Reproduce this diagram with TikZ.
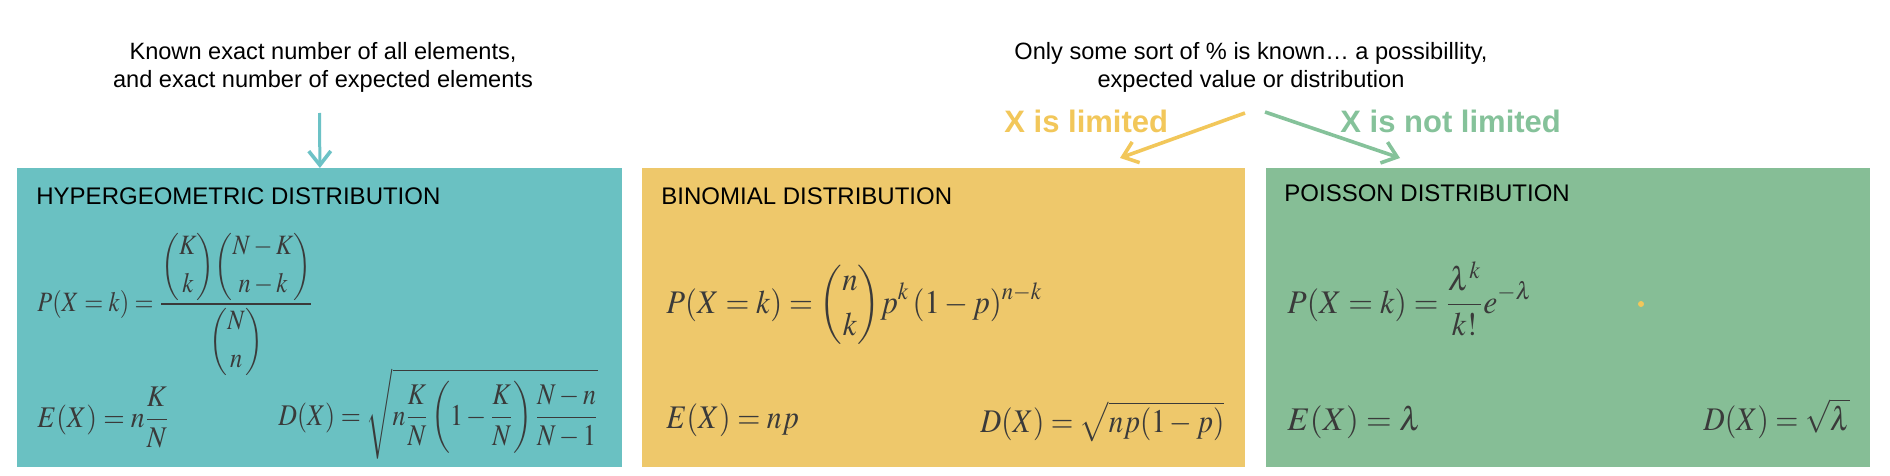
\documentclass[tikz,border=0pt]{standalone}
\usepackage{amsmath}
\usepackage{mathptmx}
\usepackage{graphicx}
\usepackage[no-math]{fontspec}
\setmainfont{Liberation Sans}
\usetikzlibrary{arrows.meta}
\definecolor{cTeal}{HTML}{6AC1C2}
\definecolor{cYel}{HTML}{EEC86B}
\definecolor{cGrn}{HTML}{86BE96}
\definecolor{cTealA}{HTML}{6CC2C6}
\definecolor{cYelA}{HTML}{F2C75A}
\definecolor{cGrnA}{HTML}{85C29A}
\definecolor{cTxt}{HTML}{3A3A3A}
\tikzset{
  distbox/.style={draw=none, anchor=north west, inner sep=0pt, minimum height=149.5pt},
  toptext/.style={align=center, font=\fontsize{11.8}{14}\selectfont, text=black, inner sep=0pt},
  boxtitle/.style={anchor=base west, inner sep=0pt, font=\fontsize{12}{14}\selectfont, text=black},
  bigfml/.style={anchor=base west, inner sep=0pt, text=cTxt, font=\fontsize{16.5}{20}\selectfont},
  midfml/.style={anchor=base west, inner sep=0pt, text=cTxt, font=\fontsize{14}{17}\selectfont},
  lowfml/.style={anchor=base west, inner sep=0pt, text=cTxt, font=\fontsize{15}{18}\selectfont},
  branch/.style={anchor=base west, inner sep=0pt, font=\bfseries\fontsize{15.5}{18}\selectfont},
  connector/.style={line width=1.8pt, -{Straight Barb[length=7pt, width=11pt, line width=1.8pt]}},
}
\begin{document}
\begin{tikzpicture}[x=0.5pt, y=-0.5pt]
\useasboundingbox (0,0) rectangle (1890,476);
\fill[white] (0,0) rectangle (1890,476);

% boxes
\node[distbox, fill=cTeal, minimum width=302.5pt] (hyp) at (17,168) {};
\node[distbox, fill=cYel, minimum width=301.5pt] (bin) at (642,168) {};
\node[distbox, fill=cGrn, minimum width=302pt] (poi) at (1266,168) {};

% top texts
\node[toptext] (known) at (323,67) {Known exact number of all elements,\\and exact number of expected elements};
\node[toptext] (only) at (1251,67) {Only some sort of \% is known\dots\ a possibillity,\\expected value or distribution};

% branch labels
\node[branch, text=cYelA] (lim) at (1004,133) {X is limited};
\node[branch, text=cGrnA] (nlim) at (1340,133) {X is not limited};

% connectors
\coordinate (a1s) at (319.5,113);
\draw[connector, draw=cTealA, line width=1.5pt] (a1s) -- (hyp.north);
\coordinate (ys) at (1245,113);
\coordinate (ye) at (1120,158);
\coordinate (gs) at (1265,112);
\coordinate (ge) at (1400,158);
\draw[connector, draw=cYelA] (ys) -- (ye);
\draw[connector, draw=cGrnA] (gs) -- (ge);

% titles
\node[boxtitle] (t1) at (36,204) {HYPERGEOMETRIC DISTRIBUTION};
\node[boxtitle] (t2) at (661,204) {BINOMIAL DISTRIBUTION};
\node[boxtitle] (t3) at (1284,201) {POISSON DISTRIBUTION};

% hypergeometric
\node[midfml] (hp) at (37,311) {\scalebox{0.87}[1]{$\displaystyle P(X=k)=\frac{\dbinom{K}{k}\dbinom{N-K}{n-k}}{\dbinom{N}{n}}$}};
\node[lowfml] (he) at (37,427) {\scalebox{0.92}[1]{$\displaystyle E(X)=n\frac{K}{N}$}};
\node[lowfml] (hd) at (278,425) {\scalebox{0.86}[1]{$\displaystyle D(X)=\sqrt{n\frac{K}{N}\left(1-\frac{K}{N}\right)\frac{N-n}{N-1}}$}};

% binomial
\node[bigfml] (bp) at (666,313) {\scalebox{0.93}[1]{$\displaystyle P(X=k)=\binom{n}{k}p^k\,(1-p)^{n-k}$}};
\node[bigfml] (be) at (666,428) {\scalebox{0.9}[1]{$E(X)=np$}};
\node[bigfml] (bd) at (980,432) {\scalebox{0.88}[1]{$D(X)=\sqrt{np(1-p)}$}};

% poisson
\node[bigfml] (pp) at (1287,313) {\scalebox{0.96}[1]{$\displaystyle P(X=k)=\frac{\lambda^k}{k!}e^{-\lambda}$}};
\node[bigfml] (pe) at (1287,430) {$E(X)=\lambda$};
\node[bigfml] (pd) at (1703,430) {\scalebox{0.9}[1]{$D(X)=\sqrt{\lambda}$}};

\fill[cYelA] (1641,304) circle (3);
\end{tikzpicture}
\end{document}
